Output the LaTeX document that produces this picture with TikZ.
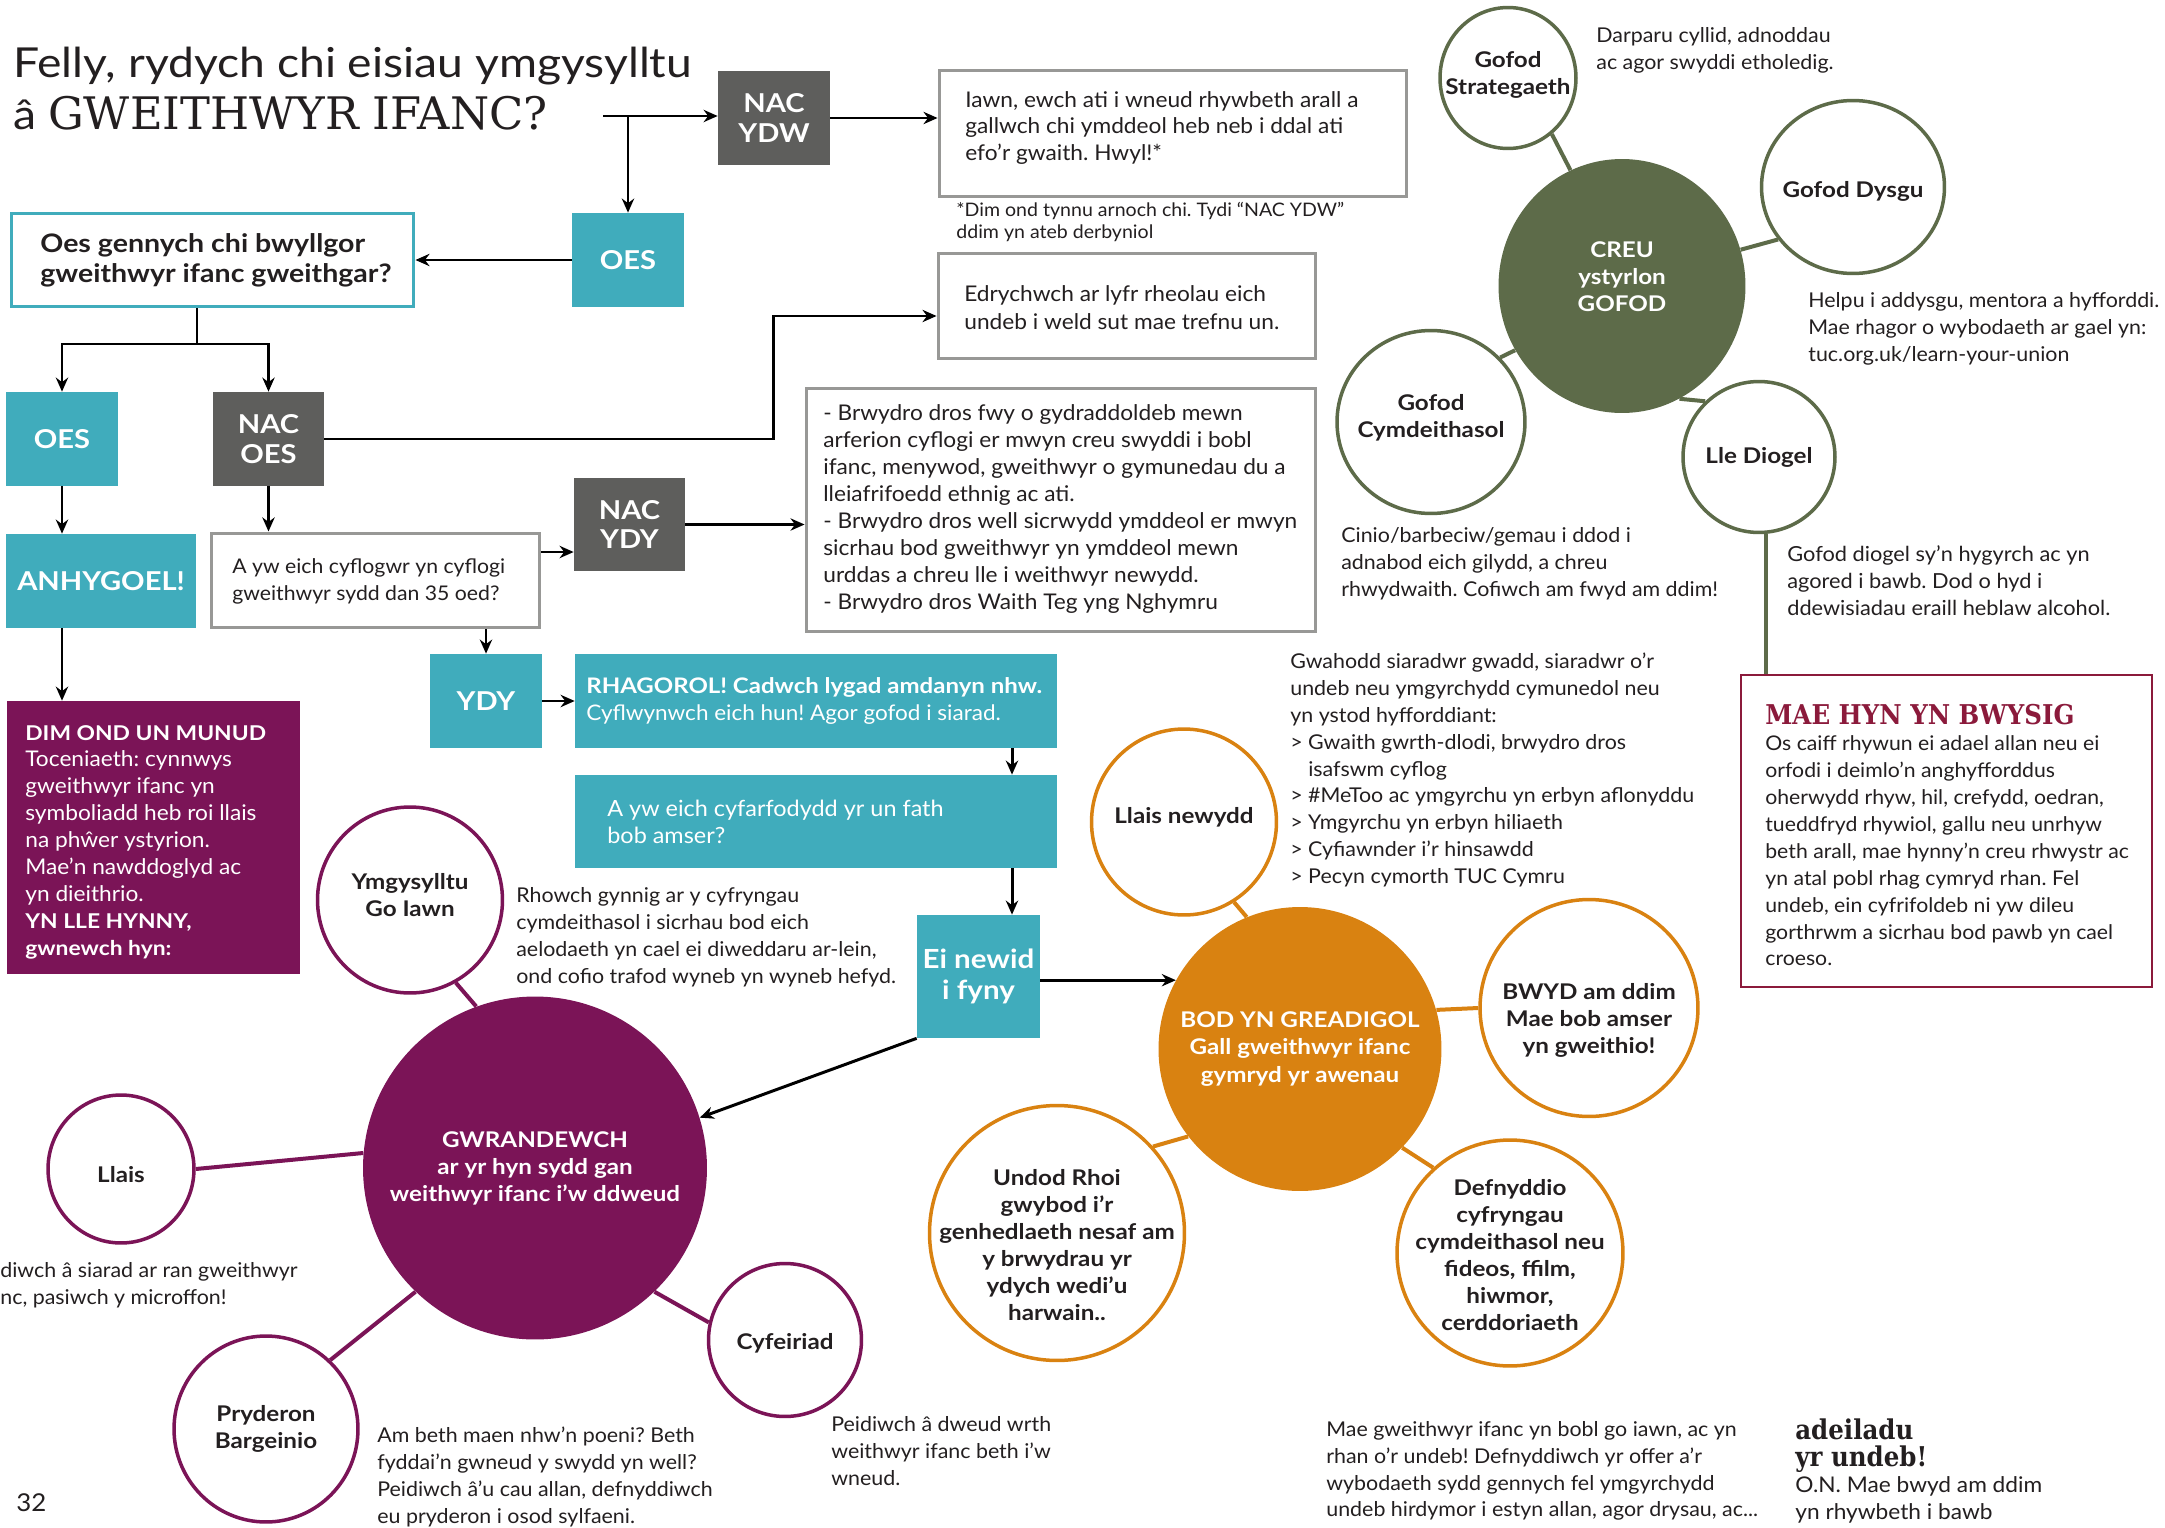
\documentclass[tikz,border=0pt]{standalone}
\usepackage{fontspec}
\setmainfont{Lato}[FakeStretch=1.05, BoldFeatures={FakeStretch=1.12}]
\newfontfamily\widesans{Lato}[FakeStretch=1.12]
\newfontfamily\slab{DejaVu Serif}
\newfontfamily\slabheavy{DejaVu Serif}[FakeStretch=0.9]
\usetikzlibrary{shapes.geometric, arrows.meta, positioning, calc}
\definecolor{tealc}{RGB}{64,172,188}
\definecolor{slatec}{RGB}{94,94,92}
\definecolor{plumc}{RGB}{123,20,87}
\definecolor{olivec}{RGB}{93,107,73}
\definecolor{amberc}{RGB}{217,130,17}
\definecolor{winec}{RGB}{139,26,59}
\definecolor{framec}{RGB}{152,152,150}
\definecolor{inkc}{RGB}{35,31,32}
\newcommand{\bodysize}{\fontsize{11.6}{15.3}\selectfont}
\newcommand{\notesize}{\fontsize{10.6}{12.5}\selectfont}
\newcommand{\labelsize}{\fontsize{14.8}{17}\selectfont\bfseries}
\newcommand{\ringsize}{\fontsize{12.3}{15.4}\selectfont\bfseries}
\newcommand{\slabhead}{\slabheavy\bfseries\fontsize{15.5}{17}\selectfont}
\frenchspacing

\begin{document}
\begin{tikzpicture}[
    x=0.02cm, y=-0.02cm,
    font=\bodysize, text=inkc,
    flow/.style={-{Stealth[length=8pt, width=7pt]}, line width=1.7pt},
    wire/.style={line width=1.7pt},
    tealbox/.style={rectangle, fill=tealc, text=white, font=\labelsize, align=center, inner sep=0},
    slatebox/.style={rectangle, fill=slatec, text=white, font=\labelsize, align=center, inner sep=0},
    framebox/.style={rectangle, draw=framec, line width=0.06cm, fill=white},
    blurb/.style={anchor=west, align=left, inner sep=0},
    ring/.style={ellipse, draw=#1, line width=0.07cm, fill=white, inner sep=0},
    disc/.style={ellipse, fill=#1, inner sep=0},
    spoke/.style={draw=#1, line width=0.08cm},
    ringtext/.style={align=center, font=\ringsize, text=inkc},
    disctext/.style={align=center, font=\ringsize, text=white}
]
\path[fill=white, use as bounding box] (0,0) rectangle (2165,1528);

% === TITLE ===
\node[blurb, font=\widesans\fontsize{23.5}{29.5}\selectfont] (title) at (13,89)
    {Felly, rydych chi eisiau ymgysylltu\\â {\slab\fontsize{25.5}{29.5}\selectfont GWEITHWYR IFANC?}};
\coordinate (tstart) at (603,116);
\coordinate (tsplit) at (628,116);

% === FIRST ANSWER ===
\node[slatebox, minimum width=2.24cm, minimum height=1.88cm] (nacydw) at (774,118) {NAC\\YDW};
\node[framebox, minimum width=9.36cm, minimum height=2.54cm] (iawn) at (1173,133.5) {};
\node[blurb, font=\fontsize{12.3}{15.3}\selectfont] (iawntext) at (965,128)
    {Iawn, ewch ati i wneud rhywbeth arall a\\gallwch chi ymddeol heb neb i ddal ati\\efo’r gwaith. Hwyl!*};
\node[blurb, font=\notesize] (iawnnote) at (956,222)
    {*Dim ond tynnu arnoch chi. Tydi “NAC YDW”\\ddim yn ateb derbyniol};
\node[tealbox, minimum width=2.24cm, minimum height=1.88cm] (oes1) at (628,260) {OES};
\node[framebox, draw=tealc, minimum width=8.06cm, minimum height=1.88cm] (oesq) at (212.5,260) {};
\node[blurb, font=\fontsize{14.5}{17}\selectfont\bfseries] (oesqtext) at (40,260)
    {Oes gennych chi bwyllgor\\gweithwyr ifanc gweithgar?};

\draw[flow] (tstart) -- (tstart -| nacydw.west);
\draw[flow] (tsplit) -- (tsplit |- oes1.north);
\draw[flow] (nacydw.east) -- (nacydw.east -| iawn.west);
\draw[flow] (oes1.west) -- (oesq.east);

% === COMMITTEE BRANCH ===
\coordinate (fork) at (197,344);
\node[tealbox, minimum width=2.24cm, minimum height=1.88cm] (oes2) at (62,439) {OES};
\node[slatebox, minimum width=2.22cm, minimum height=1.88cm] (nacoes) at (268.5,439) {NAC\\OES};
\node[tealbox, minimum width=3.8cm, minimum height=1.88cm] (anhygoel) at (101,581) {ANHYGOEL!};
\node[rectangle, fill=plumc, minimum width=5.86cm, minimum height=5.46cm] (dimond) at (153.5,837.5) {};
\node[blurb, text=white, font=\fontsize{12.3}{15.3}\selectfont] (dimondtext) at (25,842)
    {{\fontsize{11.6}{15.3}\selectfont\bfseries DIM OND UN MUNUD}\\Toceniaeth: cynnwys\\gweithwyr ifanc yn\\symboliadd heb roi llais\\na phŵer ystyrion.\\Mae’n nawddoglyd ac\\yn dieithrio.\\{\fontsize{11.6}{15.3}\selectfont\bfseries YN LLE HYNNY,}\\{\fontsize{11.6}{15.3}\selectfont\bfseries gwnewch hyn:}};
\node[framebox, minimum width=6.58cm, minimum height=1.9cm] (ayw) at (375.5,580.5) {};
\node[blurb, font=\fontsize{11.5}{15.3}\selectfont] (aywtext) at (232,581)
    {A yw eich cyflogwr yn cyflogi\\gweithwyr sydd dan 35 oed?};
\node[slatebox, minimum width=2.22cm, minimum height=1.86cm] (nacydy) at (629.5,524.5) {NAC\\YDY};
\node[framebox, minimum width=10.2cm, minimum height=4.88cm] (brwydro) at (1061,510) {};
\node[blurb, font=\fontsize{12.3}{15.4}\selectfont] (brwydrotext) at (823,509)
    {- Brwydro dros fwy o gydraddoldeb mewn\\arferion cyflogi er mwyn creu swyddi i bobl\\ifanc, menywod, gweithwyr o gymunedau du a\\lleiafrifoedd ethnig ac ati.\\- Brwydro dros well sicrwydd ymddeol er mwyn\\sicrhau bod gweithwyr yn ymddeol mewn\\urddas a chreu lle i weithwyr newydd.\\- Brwydro dros Waith Teg yng Nghymru};
\node[framebox, minimum width=7.56cm, minimum height=2.12cm] (edrych) at (1127,306) {};
\node[blurb, font=\fontsize{12.3}{15.8}\selectfont] (edrychtext) at (964,308)
    {Edrychwch ar lyfr rheolau eich\\undeb i weld sut mae trefnu un.};
\coordinate (bend) at (773,316);

\draw[wire] (oesq.south -| fork) -- (fork);
\draw[flow] (fork) -| (oes2.north);
\draw[flow] (fork) -| (nacoes.north);
\draw[flow] (oes2.south) -- (oes2 |- anhygoel.north);
\draw[flow] (oes2 |- anhygoel.south) -- (oes2 |- dimond.north);
\draw[flow] (nacoes.south) -- (nacoes |- ayw.north);
\draw[flow] (ayw.east |- 0,552) -- (nacydy.west |- 0,552);
\draw[flow] (nacydy.east) -- (nacydy.east -| brwydro.west);
\draw[flow] (nacoes.east) -- (nacoes.east -| bend) -- (bend) -- (bend -| edrych.west);

% === YDY BRANCH ===
\node[tealbox, minimum width=2.24cm, minimum height=1.88cm] (ydy) at (486,701) {YDY};
\node[rectangle, fill=tealc, minimum width=9.64cm, minimum height=1.88cm] (rhag) at (816,701) {};
\node[blurb, text=white, font=\fontsize{12.2}{15.8}\selectfont] (rhagtext) at (586,701)
    {\textbf{RHAGOROL! Cadwch lygad amdanyn nhw.}\\Cyflwynwch eich hun! Agor gofod i siarad.};
\node[rectangle, fill=tealc, minimum width=9.64cm, minimum height=1.86cm] (cyfar) at (816,821.5) {};
\node[blurb, text=white, font=\fontsize{12.7}{15.6}\selectfont] (cyfartext) at (607,822)
    {A yw eich cyfarfodydd yr un fath\\bob amser?};
\node[tealbox, font=\fontsize{15}{18}\selectfont\bfseries, minimum width=2.46cm, minimum height=2.46cm] (einewid) at (978.5,976.5) {Ei newid\\i fyny};

\draw[flow] (ydy |- ayw.south) -- (ydy.north);
\draw[flow] (ydy.east) -- (rhag.west);
\draw[flow] (rhag.south -| 1012,0) -- (cyfar.north -| 1012,0);
\draw[flow] (cyfar.south -| 1012,0) -- (einewid.north -| 1012,0);

% === GWRANDEWCH (purple) ===
\node[disc=plumc, minimum width=6.88cm, minimum height=6.86cm] (gwrand) at (535,1168) {};
\node[disctext] at (gwrand) {GWRANDEWCH\\ar yr hyn sydd gan\\weithwyr ifanc i’w ddweud};
\node[ring=plumc, minimum width=2.92cm, minimum height=2.96cm] (llais) at (121,1169) {};
\node[ringtext, yshift=-0.12cm] at (llais) {Llais};
\node[ring=plumc, minimum width=3.68cm, minimum height=3.72cm] (pryd) at (266,1429) {};
\node[ringtext] at (pryd) {Pryderon\\Bargeinio};
\node[ring=plumc, minimum width=3.06cm, minimum height=3.06cm] (cyfe) at (785,1340) {};
\node[ringtext, yshift=-0.06cm] at (cyfe) {Cyfeiriad};
\node[ring=plumc, minimum width=3.7cm, minimum height=3.72cm] (ymgy) at (410,900) {};
\node[ringtext, yshift=0.1cm] at (ymgy) {Ymgysylltu\\Go Iawn};

\draw[spoke=plumc] (llais.east) -- (gwrand.175);
\draw[spoke=plumc] (pryd.47) -- (gwrand.226);
\draw[spoke=plumc] (gwrand.-46) -- (cyfe.167);
\draw[spoke=plumc] (ymgy.-61) -- (gwrand.110);
\draw[flow] (einewid.south west) -- (gwrand.17);

\node[blurb] (ymgynote) at (516,937)
    {Rhowch gynnig ar y cyfryngau\\cymdeithasol i sicrhau bod eich\\aelodaeth yn cael ei diweddaru ar-lein,\\ond cofio trafod wyneb yn wyneb hefyd.};
\node[blurb] (llaisnote) at (0,1285) {diwch â siarad ar ran gweithwyr\\nc, pasiwch y microffon!};
\node[blurb] (prydnote) at (377,1477)
    {Am beth maen nhw’n poeni? Beth\\fyddai’n gwneud y swydd yn well?\\Peidiwch â’u cau allan, defnyddiwch\\eu pryderon i osod sylfaeni.};
\node[blurb] (cyfenote) at (831,1451) {Peidiwch â dweud wrth\\weithwyr ifanc beth i’w\\wneud.};
\node[blurb, font=\fontsize{14}{16}\selectfont] (pagenum) at (16,1503) {32};

% === CREU GOFOD (green) ===
\node[disc=olivec, minimum width=4.94cm, minimum height=5.08cm] (creu) at (1622,286) {};
\node[disctext, yshift=0.18cm] at (creu) {CREU\\ystyrlon\\GOFOD};
\node[ring=olivec, minimum width=2.72cm, minimum height=2.82cm] (strat) at (1508,78) {};
\node[ringtext, yshift=0.06cm] at (strat) {Gofod\\Strategaeth};
\node[ring=olivec, minimum width=3.66cm, minimum height=3.46cm] (dysgu) at (1853,187) {};
\node[ringtext, yshift=-0.08cm] at (dysgu) {Gofod Dysgu};
\node[ring=olivec, minimum width=3.76cm, minimum height=3.66cm] (cymd) at (1431,422) {};
\node[ringtext, yshift=0.09cm] at (cymd) {Gofod\\Cymdeithasol};
\node[ring=olivec, minimum width=3.04cm, minimum height=3.02cm] (lle) at (1759,457) {};
\node[ringtext] at (lle) {Lle Diogel};
\node[rectangle, draw=winec, line width=0.04cm, fill=white, minimum width=8.22cm, minimum height=6.24cm] (maehyn) at (1946.5,831) {};
\node[blurb, font=\fontsize{11.5}{15.3}\selectfont] (maehyntext) at (1765,835)
    {{\slabhead\color{winec}MAE HYN YN BWYSIG}\\Os caiff rhywun ei adael allan neu ei\\orfodi i deimlo’n anghyfforddus\\oherwydd rhyw, hil, crefydd, oedran,\\tueddfryd rhywiol, gallu neu unrhyw\\beth arall, mae hynny’n creu rhwystr ac\\yn atal pobl rhag cymryd rhan. Fel\\undeb, ein cyfrifoldeb ni yw dileu\\gorthrwm a sicrhau bod pawb yn cael\\croeso.};

\draw[spoke=olivec] (strat.-52) -- (creu.114);
\draw[spoke=olivec] (creu.17) -- (dysgu.215);
\draw[spoke=olivec] (cymd.43) -- (creu.211);
\draw[spoke=olivec] (creu.-63) -- (lle.134);
\draw[spoke=olivec] (lle.-85) -- (lle.-85 |- maehyn.north);

\node[blurb] (stratnote) at (1596,50) {Darparu cyllid, adnoddau\\ac agor swyddi etholedig.};
\node[blurb] (dysgunote) at (1808,329) {Helpu i addysgu, mentora a hyfforddi.\\Mae rhagor o wybodaeth ar gael yn:\\tuc.org.uk/learn-your-union};
\node[blurb] (cymdnote) at (1341,564) {Cinio/barbeciw/gemau i ddod i\\adnabod eich gilydd, a chreu\\rhwydwaith. Cofiwch am fwyd am ddim!};
\node[blurb, font=\fontsize{11.8}{15.3}\selectfont] (llenote) at (1787,581) {Gofod diogel sy’n hygyrch ac yn\\agored i bawb. Dod o hyd i\\ddewisiadau eraill heblaw alcohol.};
\node[blurb] (speakernote) at (1290,770)
    {Gwahodd siaradwr gwadd, siaradwr o’r\\undeb neu ymgyrchydd cymunedol neu\\yn ystod hyfforddiant:\\> Gwaith gwrth-dlodi, brwydro dros\\\phantom{> }isafswm cyflog\\> \#MeToo ac ymgyrchu yn erbyn aflonyddu\\> Ymgyrchu yn erbyn hiliaeth\\> Cyfiawnder i’r hinsawdd\\> Pecyn cymorth TUC Cymru};

% === BOD YN GREADIGOL (orange) ===
\node[disc=amberc, minimum width=5.66cm, minimum height=5.68cm] (bod) at (1300,1049) {};
\node[disctext] at (bod) {BOD YN GREADIGOL\\Gall gweithwyr ifanc\\gymryd yr awenau};
\node[ring=amberc, minimum width=3.7cm, minimum height=3.72cm] (newydd) at (1184,822) {};
\node[ringtext, yshift=0.1cm] at (newydd) {Llais newydd};
\node[ring=amberc, minimum width=4.36cm, minimum height=4.34cm] (bwyd) at (1589,1008) {};
\node[ringtext, yshift=-0.24cm] at (bwyd) {BWYD am ddim\\Mae bob amser\\yn gweithio!};
\node[ring=amberc, minimum width=5.1cm, minimum height=5.1cm] (undod) at (1057,1233) {};
\node[ringtext, yshift=-0.24cm] at (undod) {Undod Rhoi\\gwybod i’r\\genhedlaeth nesaf am\\y brwydrau yr\\ydych wedi’u\\harwain..};
\node[ring=amberc, minimum width=4.52cm, minimum height=4.52cm] (defn) at (1510,1253) {};
\node[ringtext, yshift=-0.04cm] at (defn) {Defnyddio\\cyfryngau\\cymdeithasol neu\\fideos, ffilm,\\hiwmor,\\cerddoriaeth};

\draw[spoke=amberc] (newydd.-58) -- (bod.112);
\draw[spoke=amberc] (bod.16) -- (bwyd.180);
\draw[spoke=amberc] (undod.42) -- (bod.218);
\draw[spoke=amberc] (bod.-44) -- (defn.132);
\draw[flow] (einewid.east |- bod.151) -- (bod.151);

\node[blurb] (unionnote) at (1326,1471)
    {Mae gweithwyr ifanc yn bobl go iawn, ac yn\\rhan o’r undeb! Defnyddiwch yr offer a’r\\wybodaeth sydd gennych fel ymgyrchydd\\undeb hirdymor i estyn allan, agor drysau, ac...};
\node[blurb, font=\fontsize{12.3}{15.3}\selectfont] (buildnote) at (1795,1471)
    {{\slabhead adeiladu}\\{\slabhead yr undeb!}\\O.N. Mae bwyd am ddim\\yn rhywbeth i bawb};

\end{tikzpicture}
\end{document}
